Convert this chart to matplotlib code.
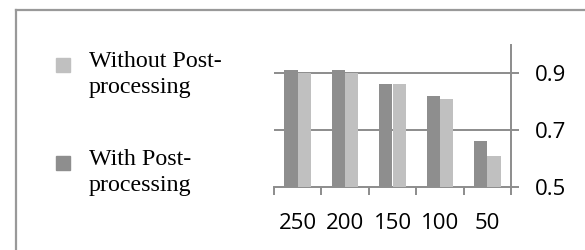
import matplotlib
matplotlib.use("Agg")
import matplotlib.pyplot as plt
from matplotlib.lines import Line2D
from matplotlib.patches import Rectangle
import numpy as np

categories = ["250", "200", "150", "100", "50"]
with_post = [0.91, 0.91, 0.86, 0.82, 0.66]
without_post = [0.90, 0.90, 0.86, 0.81, 0.61]
y_ticks = [0.5, 0.7, 0.9]

dark = "#8e8e8e"
light = "#c0c0c0"
axis_grey = "#8c8c8c"

fig = plt.figure(figsize=(5.85, 2.5), dpi=100)
ax = fig.add_axes([274 / 585, 63 / 250, 237 / 585, 142.5 / 250])

x = np.arange(len(categories))
w = 0.28
ax.bar(x - w / 2, with_post, w, bottom=0, color=dark, zorder=3)
ax.bar(x + w / 2, without_post, w, bottom=0, color=light, zorder=3)

ax.set_xlim(-0.5, len(categories) - 0.5)
ax.set_ylim(0.5, 1.0)

for s in ["left", "top"]:
    ax.spines[s].set_visible(False)
for s in ["bottom", "right"]:
    ax.spines[s].set_color(axis_grey)
    ax.spines[s].set_linewidth(1.4)

ax.yaxis.tick_right()
ax.set_yticks(y_ticks)
ax.set_yticklabels([f"{v:.1f}" for v in y_ticks])
ax.tick_params(axis="y", direction="out", length=6, width=1.4, color=axis_grey,
               pad=11, labelsize=16)
for v in y_ticks[1:]:
    ax.axhline(v, color=axis_grey, lw=1.4, zorder=1)

ax.set_xticks(x)
ax.set_xticklabels(categories)
ax.tick_params(axis="x", which="major", length=0, pad=19, labelsize=16)
ax.set_xticks(np.arange(-0.5, len(categories), 1.0), minor=True)
ax.tick_params(axis="x", which="minor", direction="out", length=6, width=1.4,
               color=axis_grey)

for lab in ax.get_xticklabels() + ax.get_yticklabels():
    lab.set_fontfamily("Open Sans")

# outer frame (left and top edges only)
fig.add_artist(Line2D([16 / 585, 16 / 585], [0, 1 - 10 / 250], color="#999999",
                      lw=1.6, transform=fig.transFigure))
fig.add_artist(Line2D([16 / 585, 1], [1 - 10 / 250, 1 - 10 / 250], color="#999999",
                      lw=1.6, transform=fig.transFigure))

# legend
legend_items = [("Without Post-\nprocessing", light, 65), ("With Post-\nprocessing", dark, 163)]
for label, col, yc in legend_items:
    fig.add_artist(Rectangle((56 / 585, 1 - (yc + 7) / 250), 14 / 585, 14 / 250,
                             color=col, transform=fig.transFigure))
    lines = label.split("\n")
    fig.text(89 / 585, 1 - (yc + 2) / 250, lines[0], family="Liberation Serif",
             fontsize=17.3, va="baseline", ha="left")
    fig.text(89 / 585, 1 - (yc + 28) / 250, lines[1], family="Liberation Serif",
             fontsize=17.3, va="baseline", ha="left")

fig.savefig("out.png", dpi=100)
